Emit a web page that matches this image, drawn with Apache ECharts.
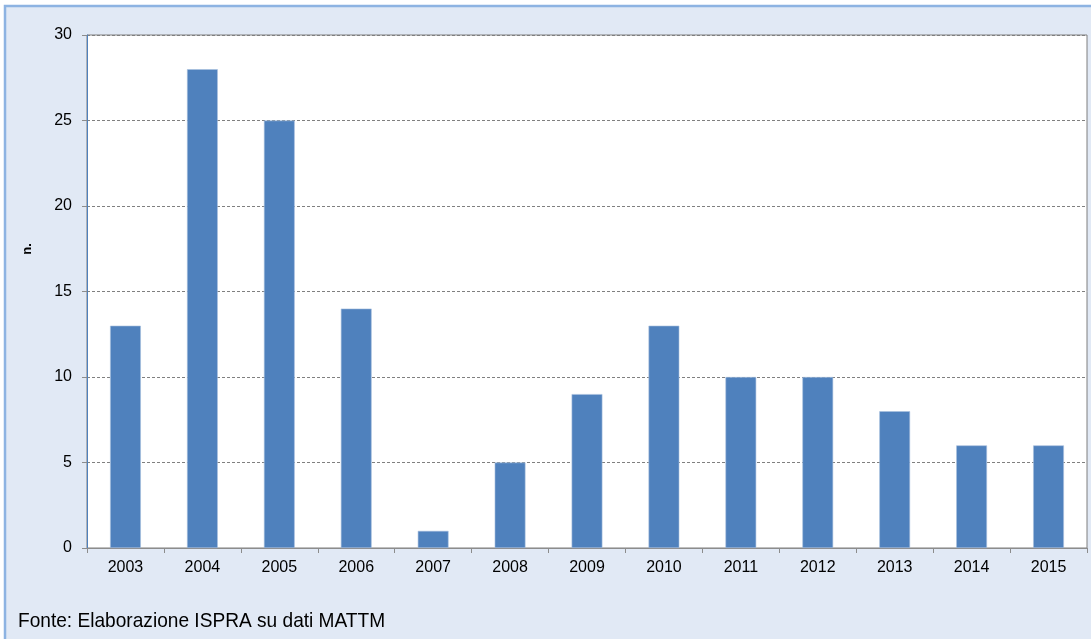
<!DOCTYPE html>
<html>
<head>
<meta charset="utf-8">
<script src="https://cdn.jsdelivr.net/npm/echarts@6/dist/echarts.min.js"></script>
<style>
  html, body { margin: 0; padding: 0; background: #ffffff; }
  #chart { width: 1091px; height: 639px; }
</style>
</head>
<body>
<div id="chart"></div>
<script>
// anni e numero di casi
var anni = ['2003', '2004', '2005', '2006', '2007', '2008', '2009', '2010', '2011', '2012', '2013', '2014', '2015'];
var valori = [13, 28, 25, 14, 1, 5, 9, 13, 10, 10, 8, 6, 6];
var fonte = 'Fonte: Elaborazione ISPRA su dati MATTM';

var myChart = echarts.init(document.getElementById('chart'));

var option = {
    animation: false,
    backgroundColor: '#ffffff',
    textStyle: { fontFamily: 'Liberation Sans, Arial, sans-serif' },
    graphic: [{
        type: 'rect',
        shape: { x: 5, y: 6, width: 1090, height: 640 },
        style: { fill: '#e1e9f5', stroke: '#8db3e2', lineWidth: 2.5 },
        z: -10
    }, {
        // testo della fonte, leggermente compresso come nell'originale
        type: 'text',
        x: 18,
        y: 621,
        scaleX: 0.91,
        style: {
            text: fonte,
            fill: '#000000',
            font: '21px "Liberation Sans", Arial, sans-serif',
            align: 'left',
            verticalAlign: 'middle'
        }
    }, {
        type: 'text',
        x: 27,
        y: 249,
        rotation: Math.PI / 2,
        style: {
            text: 'n.',
            fill: '#000000',
            font: 'bold 13px "Liberation Sans", Arial, sans-serif',
            align: 'center',
            verticalAlign: 'middle'
        }
    }],
    grid: {
        left: 87,
        right: 4,
        top: 35,
        bottom: 91,
        show: true,
        backgroundColor: '#ffffff',
        borderColor: '#7f7f7f',
        borderWidth: 1
    },
    xAxis: {
        type: 'category',
        data: anni,
        axisLine: { lineStyle: { color: '#8c8c8c', width: 1 } },
        axisTick: { show: true, length: 5, lineStyle: { color: '#8c8c8c' } },
        axisLabel: { color: '#000000', fontSize: 16, margin: 12 }
    },
    yAxis: {
        type: 'value',
        min: 0,
        max: 30,
        interval: 5,
        axisLine: { show: true, lineStyle: { color: '#4f81bd', width: 1 } },
        axisTick: { show: true, length: 5, lineStyle: { color: '#8c8c8c' } },
        axisLabel: { color: '#000000', fontSize: 16, margin: 15 },
        splitLine: { lineStyle: { color: '#808080', type: [3, 2], width: 1 } }
    },
    series: [{
        type: 'bar',
        data: valori,
        barWidth: '40%',
        itemStyle: { color: '#4f81bd', borderColor: '#a7c0de', borderWidth: 0.6 }
    }]
};

myChart.setOption(option);
</script>
</body>
</html>
